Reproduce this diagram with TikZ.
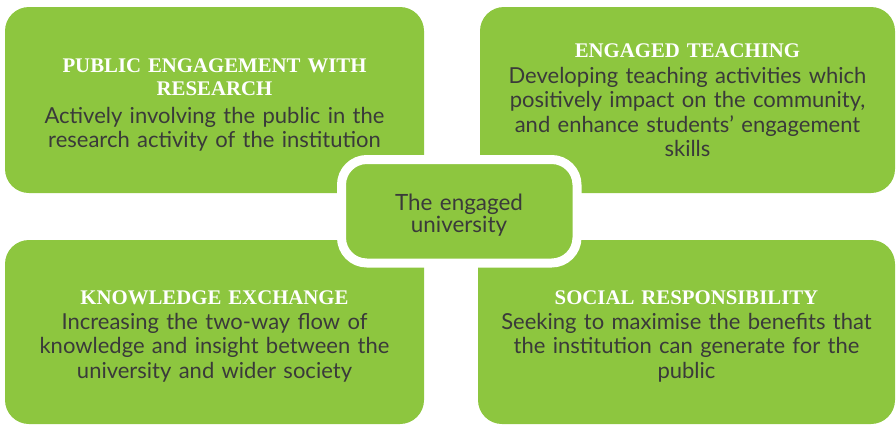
\documentclass[tikz,border=0pt]{standalone}
\usepackage{fontspec}
\setmainfont{Lato}
\newfontfamily\slabfont{Liberation Serif}
\usepackage{xcolor}
\definecolor{engGreen}{RGB}{141,198,63}
\definecolor{engText}{RGB}{58,58,58}

\tikzset{
  panel/.style={fill=engGreen, draw=none, rounded corners=18pt},
  hub/.style={fill=engGreen, draw=white, line width=6.75pt, rounded corners=19pt},
  headtext/.style={anchor=base, inner sep=0pt, text width=300pt, align=center,
    text=white, font=\slabfont\bfseries\fontsize{15.6}{17.5}\selectfont},
  bodytext/.style={anchor=base, inner sep=0pt, text width=300pt, align=center,
    text=engText, font=\fontsize{16.5}{18.4}\selectfont},
}

\begin{document}
\begin{tikzpicture}[x=0.75pt,y=0.75pt,yscale=-1,xscale=1]
\useasboundingbox (0,0) rectangle (896,426);

%Shape: Rounded Rectangle, top left
\draw [panel] (5,7) -- (424,7) -- (424,193) -- (5,193) -- cycle ;
%Shape: Rounded Rectangle, top right
\draw [panel] (480,7) -- (895,7) -- (895,193) -- (480,193) -- cycle ;
%Shape: Rounded Rectangle, bottom left
\draw [panel] (5,240) -- (424,240) -- (424,424) -- (5,424) -- cycle ;
%Shape: Rounded Rectangle, bottom right
\draw [panel] (478,240) -- (895,240) -- (895,424) -- (478,424) -- cycle ;
%Shape: Rounded Rectangle, centre
\draw [hub] (341.5,159.5) -- (577,159.5) -- (577,263) -- (341.5,263) -- cycle ;

% Text Node
\node [headtext] (pubHead) at (214.5,72) {PUBLIC ENGAGEMENT WITH\\RESEARCH};
% Text Node
\node [bodytext] (pubBody) at (214.5,123) {Actively involving the public in the\\research activity of the institution};
% Text Node
\node [headtext] (teachHead) at (687.5,57) {ENGAGED TEACHING};
% Text Node
\node [bodytext] (teachBody) at (687.5,83) {Developing teaching activities which\\positively impact on the community,\\and enhance students’ engagement\\skills};
% Text Node
\node [headtext] (knowHead) at (214.5,304) {KNOWLEDGE EXCHANGE};
% Text Node
\node [bodytext] (knowBody) at (214.5,329) {Increasing the two-way flow of\\knowledge and insight between the\\university and wider society};
% Text Node
\node [headtext] (socHead) at (686.5,304) {SOCIAL RESPONSIBILITY};
% Text Node
\node [bodytext] (socBody) at (686.5,329) {Seeking to maximise the benefits that\\the institution can generate for the\\public};
% Text Node
\node [bodytext, font=\fontsize{16.8}{16.8}\selectfont] (hubText) at (459,210) {The engaged\\university};

\end{tikzpicture}
\end{document}
